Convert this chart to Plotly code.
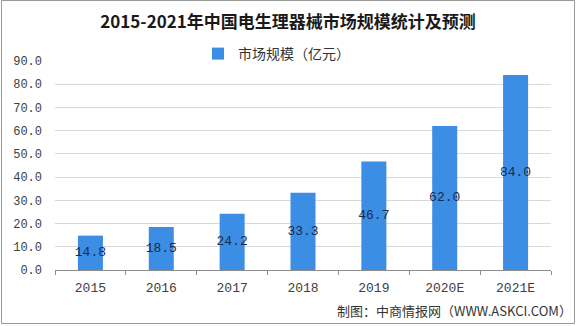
import plotly.graph_objects as go

# Market size of electrophysiology devices in China (100 million yuan)
years = ["2015", "2016", "2017", "2018", "2019", "2020E", "2021E"]
market_size = [14.8, 18.5, 24.2, 33.3, 46.7, 62.0, 84.0]
y_ticks = [0, 10, 20, 30, 40, 50, 60, 70, 80, 90]

title_text = "2015-2021年中国电生理器械市场规模统计及预测"
series_name = "市场规模（亿元）"
source_text = "制图：中商情报网（WWW.ASKCI.COM）"

W, H = 576, 326
ML, MR, MT, MB = 55, 25, 61, 56
PW, PH = W - ML - MR, H - MT - MB

bar_color = "#3b8ee4"
label_color = "#1c2a4a"
mono = "Liberation Mono, DejaVu Sans Mono, monospace"
cjk = "Noto Sans CJK SC, Noto Sans, sans-serif"


def px_x(px):
    """Horizontal pixel position -> paper coordinate."""
    return (px - ML) / PW


def px_y(py):
    """Vertical pixel position (from top) -> paper coordinate."""
    return (H - MB - py) / PH


fig = go.Figure()
fig.add_trace(go.Bar(
    x=years,
    y=market_size,
    name=series_name,
    marker=dict(color=bar_color, line=dict(width=0)),
    hoverinfo="x+y",
))

# Value labels centred inside each bar
fig.add_trace(go.Scatter(
    x=years,
    y=[v / 2 for v in market_size],
    mode="text",
    text=[f"{v:.1f}" for v in market_size],
    textposition="middle center",
    textfont=dict(family=mono, size=13, color=label_color),
    showlegend=False,
    hoverinfo="skip",
    cliponaxis=False,
))

fig.update_layout(
    width=W, height=H,
    margin=dict(l=ML, r=MR, t=MT, b=MB),
    paper_bgcolor="white",
    plot_bgcolor="white",
    bargap=0.647,
    title=dict(
        text=title_text,
        x=288 / W, xref="container", xanchor="center",
        y=1 - 22 / H, yref="container", yanchor="middle",
        font=dict(family=cjk, size=17, color="#1a1a1a", weight="bold"),
    ),
    showlegend=True,
    legend=dict(
        orientation="h",
        x=px_x(198), xanchor="left",
        y=px_y(54), yanchor="middle",
        font=dict(family=cjk, size=14, color="#333333"),
        itemwidth=30,
        bgcolor="rgba(0,0,0,0)",
    ),
)

fig.update_xaxes(
    type="category",
    showgrid=False,
    showline=True,
    linecolor="#8c8c8c",
    linewidth=1,
    ticks="outside",
    tickson="boundaries",
    ticklen=4,
    tickcolor="#8c8c8c",
    ticklabelstandoff=5,
    tickfont=dict(family=mono, size=13, color="#404040"),
)

fig.update_yaxes(
    range=[0, 90],
    tickvals=y_ticks,
    tickformat=".1f",
    showgrid=True,
    gridcolor="#d9d9d9",
    gridwidth=1,
    zeroline=False,
    showline=False,
    ticks="",
    ticklabelstandoff=12,
    tickfont=dict(family=mono, size=12, color="#404040"),
)

# Source note in the bottom-right corner
fig.add_annotation(
    text=source_text,
    xref="paper", yref="paper",
    x=px_x(574), xanchor="right",
    y=px_y(310), yanchor="middle",
    showarrow=False,
    font=dict(family=cjk, size=13, color="#333333"),
)

# Thin frame around the whole figure
fig.add_shape(
    type="rect",
    xref="paper", yref="paper",
    x0=px_x(1.5), x1=px_x(574.5),
    y0=px_y(323.5), y1=px_y(0.5),
    line=dict(color="#9a9a9a", width=1),
    fillcolor="rgba(0,0,0,0)",
    layer="above",
)

fig.write_html("out.html")
